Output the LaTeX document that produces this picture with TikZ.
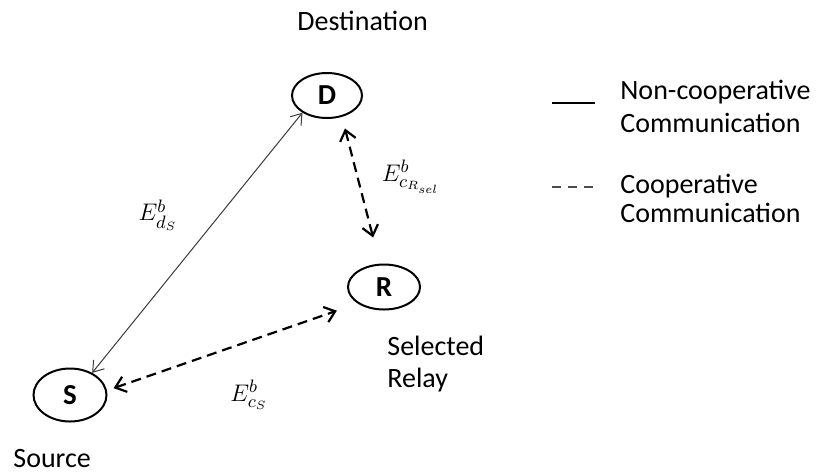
\documentclass[tikz,border=0pt]{standalone}
\usepackage{amsmath}
\usepackage{fontspec}
\setmainfont{Carlito}
\usetikzlibrary{shapes.geometric,arrows.meta}
\definecolor{linkgray}{HTML}{3A3A3A}

\begin{document}
\begin{tikzpicture}[x=0.5pt,y=-0.5pt,
    every node/.style={font=\fontsize{14}{16}\selectfont},
    station/.style={ellipse,draw,line width=1pt,inner sep=0pt,
      minimum width=35pt,minimum height=22.5pt,
      font=\fontsize{14.5}{16}\selectfont\bfseries},
    elbl/.style={font=\fontsize{13}{15}\selectfont,inner sep=0pt},
    coop/.style={dashed,dash pattern=on 5pt off 3pt,line width=1.1pt,
      {Straight Barb[length=5pt,width=8pt]}-{Straight Barb[length=5pt,width=8pt]}},
    direct/.style={linkgray,line width=0.5pt,
      {Straight Barb[length=5pt,width=7pt]}-{Straight Barb[length=5pt,width=7pt]}}]
  \useasboundingbox (0,0) rectangle (818,472);

  % stations
  \node[station] (D) at (327,95.5) {D};
  \node[station,minimum width=36pt] (R) at (384,287) {R};
  \node[station,minimum width=36.5pt,minimum height=26.5pt] (S) at (70,395) {S};

  % multi-line nodes sit on their last baseline
  \node[anchor=base west,inner sep=1pt] (dst) at (295,30) {Destination};
  \node[anchor=base west,inner sep=1pt] (src) at (11,467) {Source};
  \node[anchor=base west,align=left,inner sep=1pt] (rly) at (385,387) {Selected\\Relay};

  % links
  \draw[direct] (S.45) -- (D.215);
  \draw[coop,shorten <=6pt,shorten >=13.5pt] (D.-55) -- (R.100);
  \draw[coop,shorten <=3.5pt,shorten >=11pt] (S.7) -- (R.212);

  \node[elbl] (eds) at (158,215) {$E^b_{d_S}$};
  \node[elbl] (ecr) at (411,177) {$E^b_{c_{R_{sel}}}$};
  \node[elbl] (ecs) at (249,395) {$E^b_{c_S}$};

  % legend
  \draw[black,line width=1pt] (552,103) -- (595,103);
  \draw[black!70,line width=1pt,dash pattern=on 4.5pt off 3.5pt] (552,187) -- (593,187);
  \node[anchor=base west,align=left,inner sep=1pt,font=\fontsize{14}{16.5}\selectfont]
    (lgnc) at (618,132) {Non-cooperative\\Communication};
  \node[anchor=base west,align=left,inner sep=1pt,font=\fontsize{14}{14.5}\selectfont]
    (lgc) at (618,222) {Cooperative\\Communication};
\end{tikzpicture}
\end{document}
